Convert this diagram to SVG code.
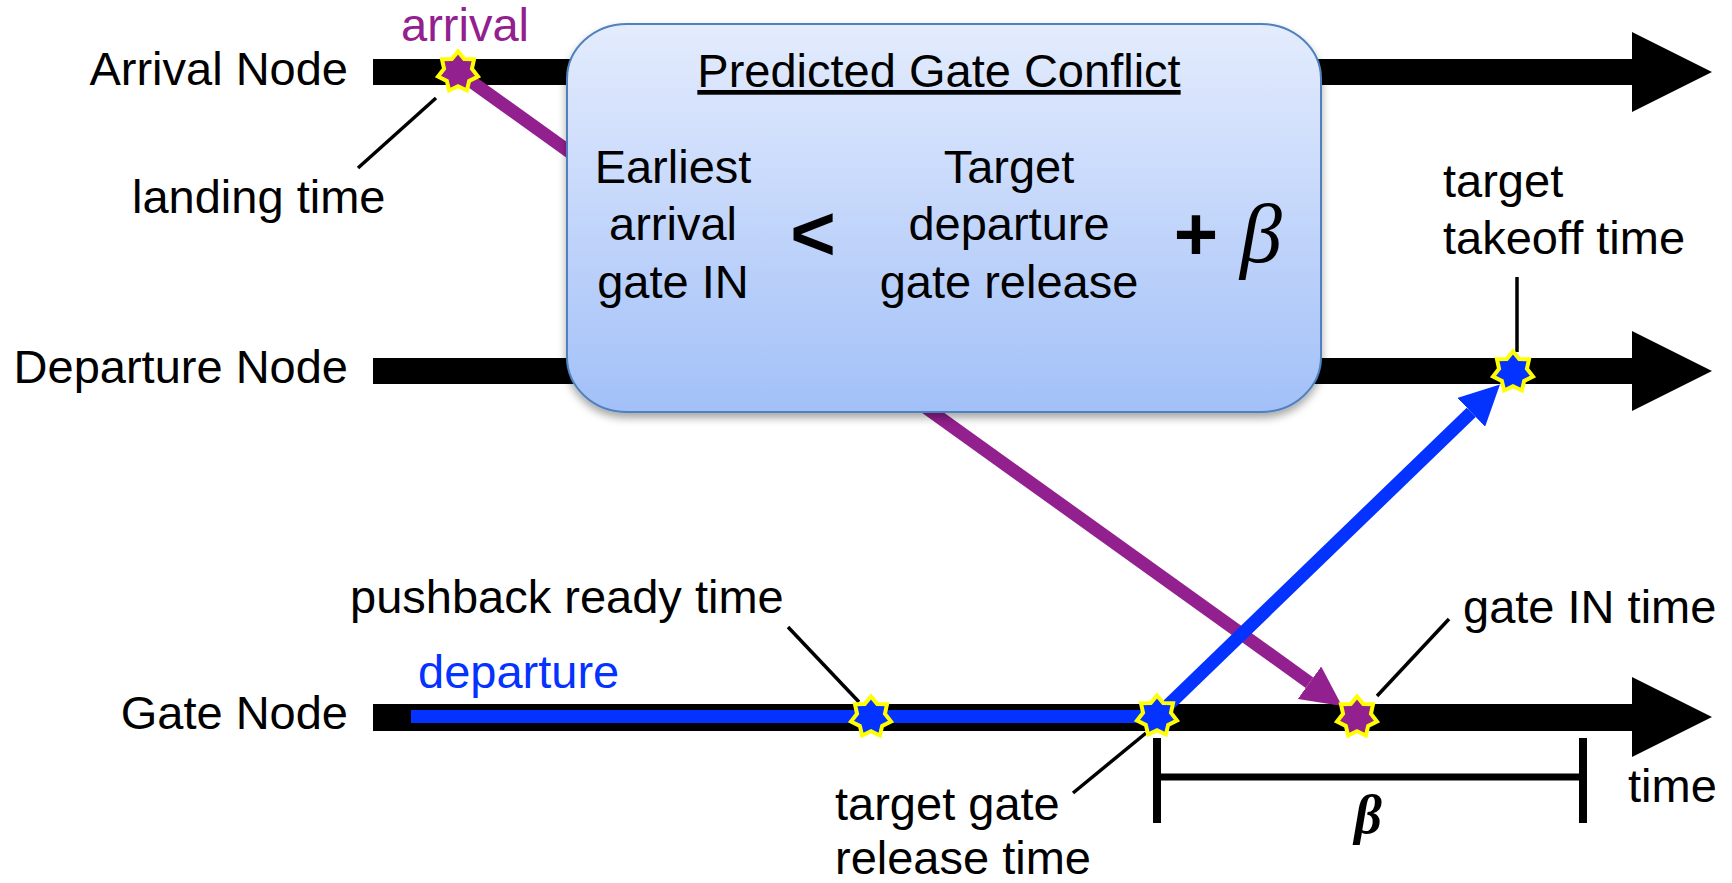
<svg xmlns="http://www.w3.org/2000/svg" xmlns:xlink="http://www.w3.org/1999/xlink" width="1732" height="883" viewBox="0 0 1732 883">
  <style>
    .lbl { font-family: "Liberation Sans", Arial, Helvetica, sans-serif; font-size: 47px; fill: #000; }
    .mid { text-anchor: middle; }
    .end { text-anchor: end; }
    .bar { fill: #000; }
    .leader { stroke: #000; stroke-width: 3.5; fill: none; }
    .arr { fill: #93208f; }
    .dep { fill: #0433ff; }
    .greek { font-family: "Liberation Serif", "Times New Roman", serif; font-style: italic; }
  </style>
  <defs>
    <!-- seven-point event marker, point up -->
    <path id="star" stroke="#ffff00" stroke-width="4" stroke-linejoin="miter"
          d="M0,-20.5 L6.2,-12.9 L16.03,-12.78 L13.94,-3.18 L19.99,4.56 L11.17,8.91 L8.89,18.47 L0,14.3 L-8.89,18.47 L-11.17,8.91 L-19.99,4.56 L-13.94,-3.18 L-16.03,-12.78 L-6.2,-12.9 Z"/>
    <marker id="headPurple" viewBox="0 0 40 40" refX="0" refY="20" markerWidth="40" markerHeight="40" markerUnits="userSpaceOnUse" orient="auto">
      <path d="M0,0 L40,20 L0,40 Z" fill="#93208f"/>
    </marker>
    <marker id="headBlue" viewBox="0 0 40 40" refX="0" refY="20" markerWidth="40" markerHeight="40" markerUnits="userSpaceOnUse" orient="auto">
      <path d="M0,0 L40,20 L0,40 Z" fill="#0433ff"/>
    </marker>
    <linearGradient id="boxFill" x1="0" y1="0" x2="0" y2="1">
      <stop offset="0" stop-color="#e4ecfd"/>
      <stop offset="1" stop-color="#a2c0f8"/>
    </linearGradient>
    <filter id="boxShadow" x="-5%" y="-5%" width="110%" height="115%">
      <feDropShadow dx="0" dy="5" stdDeviation="4" flood-color="#000" flood-opacity="0.35"/>
    </filter>
  </defs>

  <!-- time axes -->
  <g id="arrival-node">
    <text class="lbl end" x="348" y="85">Arrival Node</text>
    <path class="bar" d="M373,59 H1632 V32 L1712,72 L1632,112 V85 H373 Z"/>
  </g>
  <g id="departure-node">
    <text class="lbl end" x="348" y="383">Departure Node</text>
    <path class="bar" d="M373,358 H1632 V331 L1712,371 L1632,411 V384 H373 Z"/>
  </g>
  <g id="gate-node">
    <text class="lbl end" x="348" y="729">Gate Node</text>
    <path class="bar" d="M373,704 H1632 V677 L1712,717 L1632,757 V731 H373 Z"/>
    <text class="lbl" x="1628" y="802">time</text>
  </g>

  <!-- flights and leaders -->
  <g id="connectors">
    <rect class="dep" x="411" y="710" width="746" height="13"/>
    <line x1="458" y1="72" x2="1309.5" y2="682.7" stroke="#93208f" stroke-width="13" marker-end="url(#headPurple)"/>
    <line x1="1157" y1="716" x2="1471.2" y2="412.3" stroke="#0433ff" stroke-width="13" marker-end="url(#headBlue)"/>
    <line class="leader" x1="436" y1="98" x2="358" y2="168"/>
    <line class="leader" x1="1517" y1="277" x2="1517" y2="352"/>
    <line class="leader" x1="788" y1="627" x2="859" y2="702"/>
    <line class="leader" x1="1146" y1="733" x2="1073" y2="793"/>
    <line class="leader" x1="1377" y1="696" x2="1449" y2="619"/>
  </g>

  <!-- conflict rule -->
  <g id="conflict-box">
    <rect x="567" y="24" width="754" height="388" rx="60" ry="55" fill="url(#boxFill)" stroke="#4f81bd" stroke-width="2" filter="url(#boxShadow)"/>
    <text class="lbl mid" x="939" y="87" text-decoration="underline">Predicted Gate Conflict</text>
    <text class="lbl mid" x="673" y="183">Earliest</text>
    <text class="lbl mid" x="673" y="240">arrival</text>
    <text class="lbl mid" x="673" y="298">gate IN</text>
    <text class="lbl mid" x="813" y="260" style="font-size:78px;font-weight:bold">&lt;</text>
    <text class="lbl mid" x="1009" y="183">Target</text>
    <text class="lbl mid" x="1009" y="240">departure</text>
    <text class="lbl mid" x="1009" y="298">gate release</text>
    <text class="lbl mid" x="1196" y="260" style="font-size:76px;font-weight:bold">+</text>
    <text class="greek" x="1240" y="262" style="font-size:84px">β</text>
  </g>

  <!-- events -->
  <g id="landing-event">
    <use xlink:href="#star" x="458" y="72" class="arr"/>
    <text class="lbl" x="401" y="41" style="fill:#93208f">arrival</text>
    <text class="lbl" x="132" y="213">landing time</text>
  </g>
  <g id="takeoff-event">
    <use xlink:href="#star" x="1513" y="372" class="dep"/>
    <text class="lbl" x="1443" y="197">target</text>
    <text class="lbl" x="1443" y="254">takeoff time</text>
  </g>
  <g id="pushback-event">
    <use xlink:href="#star" x="871" y="717" class="dep"/>
    <text class="lbl" x="350" y="613">pushback ready time</text>
    <text class="lbl" x="418" y="688" style="fill:#0433ff">departure</text>
  </g>
  <g id="release-event">
    <use xlink:href="#star" x="1157" y="716" class="dep"/>
    <text class="lbl" x="835" y="820">target gate</text>
    <text class="lbl" x="835" y="874">release time</text>
  </g>
  <g id="gate-in-event">
    <use xlink:href="#star" x="1357" y="717" class="arr"/>
    <text class="lbl" x="1463" y="623">gate IN time</text>
  </g>

  <!-- buffer interval -->
  <g id="beta-interval">
    <rect class="bar" x="1153" y="738" width="8" height="85"/>
    <rect class="bar" x="1579" y="738" width="8" height="85"/>
    <rect class="bar" x="1161" y="773.5" width="418" height="7"/>
    <text class="greek mid" x="1368" y="833" style="font-size:54px;font-weight:bold">β</text>
  </g>
</svg>
